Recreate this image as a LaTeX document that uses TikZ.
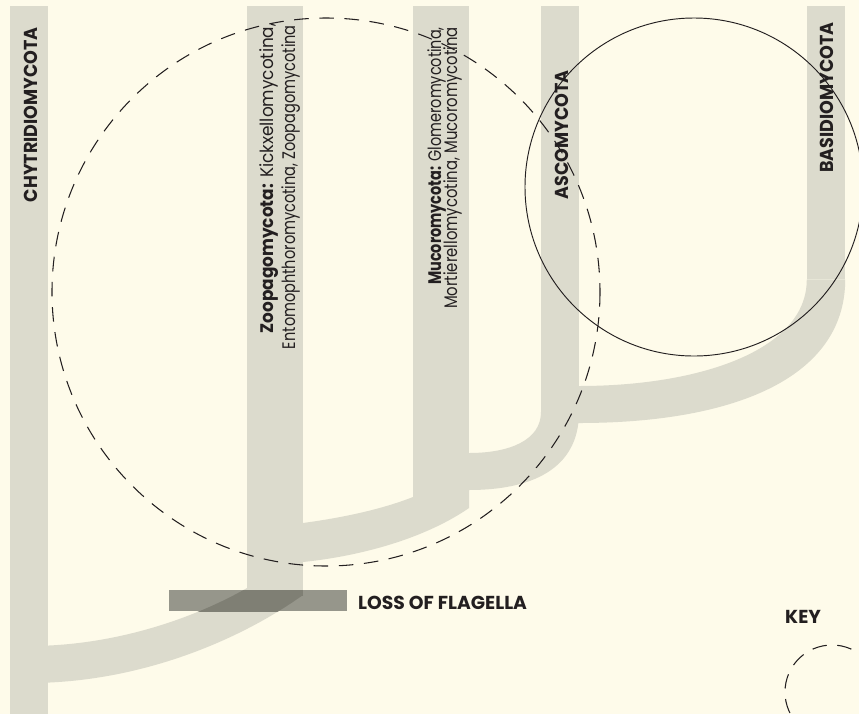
\documentclass[tikz,border=0pt]{standalone}
\usepackage{fontspec}
\setsansfont{Poppins}
\newfontfamily\capsfont{Poppins}[FakeStretch=0.935]
\usepackage{xcolor}
\definecolor{cream}{RGB}{254,251,234}
\definecolor{branchgray}{RGB}{220,219,205}
\definecolor{flaggray}{RGB}{150,150,139}
\definecolor{flagdark}{RGB}{127,127,116}
\definecolor{ink}{RGB}{35,31,32}

\newcommand{\zoobranch}{(247,588) .. controls (200,615) and (120,646) .. (29,646) -- (29,683) .. controls (140,683) and (240,640) .. (303,595) -- cycle}
\newcommand{\squeeze}[2]{\scalebox{#1}[1]{#2}}

\begin{document}
\begin{tikzpicture}[x=0.03cm, y=-0.03cm,
                    phylum/.style={rectangle, fill=branchgray, inner sep=0pt, anchor=north,
                    minimum width=1.14cm},
                    widephylum/.style={phylum, minimum width=1.68cm},
                    branch/.style={fill=branchgray},
                    captext/.style={font=\capsfont\bfseries\fontsize{16}{19}\selectfont, text=ink,
                    rotate=90, inner sep=0pt, anchor=base east},
                    subtext/.style={font=\sffamily\fontsize{15.5}{18}\selectfont, text=ink,
                    rotate=90, inner sep=0pt, anchor=base east},
                    flagtext/.style={font=\sffamily\bfseries\fontsize{16}{19}\selectfont, text=ink,
                    inner sep=0pt, anchor=base west},
                    dashring/.style={draw=ink, line width=0.9pt, dash pattern=on 12.5pt off 9pt},
                    solidring/.style={draw=ink, line width=0.8pt}]

                    \useasboundingbox (0,0) rectangle (859,714);
                    \clip (0,0) rectangle (859,714);
                    \fill[cream] (0,0) rectangle (859,714);

                    \node[phylum, minimum height=21.24cm] (chytrid) at (29,6) {};
                    \node[widephylum, minimum height=17.67cm] (zoopago) at (275,6) {};
                    \node[widephylum, minimum height=15.06cm] (mucoro) at (441,6) {};
                    \node[phylum, minimum height=12.18cm] (asco) at (560,6) {};
                    \node[phylum, minimum height=8.19cm] (basidio) at (826,6) {};

                    \fill[branch] (basidio.south west) .. controls (807,350) and (700,386) .. (579,386)
                      -- (570,386) -- (570,423) -- (579,423)
                      .. controls (730,423) and (845,380) .. (basidio.south east) -- cycle;
                    \fill[branch] (541,400) -- (541,412) .. controls (541,440) and (510,453) .. (469,453)
                      -- (460,453) -- (460,490) -- (469,490)
                      .. controls (530,490) and (579,470) .. (579,412) -- (579,400) -- cycle;
                    \fill[branch] (413,490) -- (413,497) .. controls (380,510) and (340,518) .. (303,523)
                      -- (295,523) -- (295,562) -- (303,562)
                      .. controls (370,555) and (430,535) .. (469,508) -- (469,490) -- cycle;
                    \fill[branch] \zoobranch;

                    \node[fill=flaggray, minimum width=5.34cm, minimum height=0.63cm, inner sep=0pt,
                      anchor=north west] (flagbar) at (169,590) {};
                    \begin{scope}
                    \clip (flagbar.south west) rectangle (flagbar.north east);
                    \fill[flagdark] \zoobranch;
                    \fill[flagdark] (zoopago.south west) rectangle (zoopago.north east);
                    \end{scope}

                    \node[captext] (chytridlabel) at (37,27) {CHYTRIDIOMYCOTA};
                    \node[captext] (ascolabel) at (568,70) {ASCOMYCOTA};
                    \node[captext] (basidiolabel) at (833,22) {BASIDIOMYCOTA};
                    \node[subtext] (zoolabela) at (273,23) {\squeeze{0.93}{\textbf{Zoopagomycota:} Kickxellomycotina,}};
                    \node[subtext] (zoolabelb) at (295,25) {\squeeze{0.80}{Entomophthoromycotina, Zoopagomycotina}};
                    \node[subtext] (mucorolabela) at (441,27) {\squeeze{0.795}{\textbf{Mucoromycota:} Glomeromycotina,}};
                    \node[subtext] (mucorolabelb) at (457,27) {\squeeze{0.817}{Mortierellomycotina, Mucoromycotina}};
                    \node[flagtext] (flaglabel) at (358,609) {LOSS OF FLAGELLA};
                    \node[flagtext] (keylabel) at (785,623) {KEY};

                    \draw[dashring] (326,292) circle[radius=274];
                    \draw[solidring] (694,187) circle[radius=169];
                    \draw[dashring] (832,692) circle[radius=47];
\end{tikzpicture}
\end{document}
